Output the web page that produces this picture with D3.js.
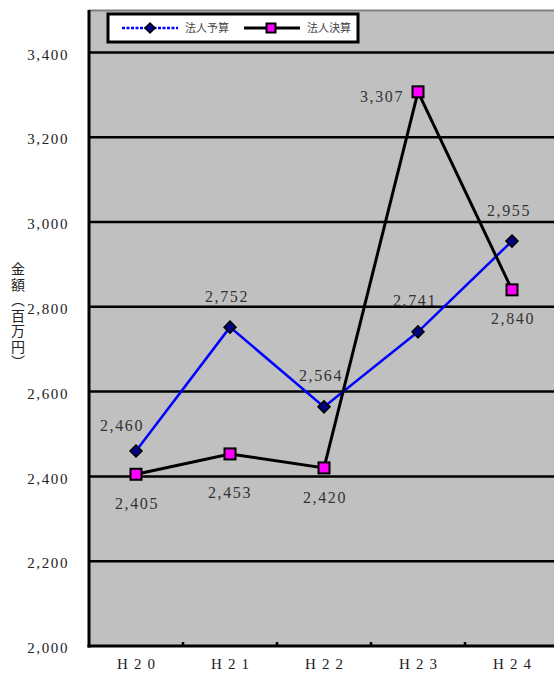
<!DOCTYPE html>
<html>
<head>
<meta charset="utf-8">
<script src="https://cdn.jsdelivr.net/npm/d3@7"></script>
<style>
  html, body { margin: 0; padding: 0; background: #fff; }
  svg { display: block; }
</style>
</head>
<body>
<script>
// Categories (fiscal years) and the two series, in millions of yen
const categories = ["H20", "H21", "H22", "H23", "H24"];
const budget = [2460, 2752, 2564, 2741, 2955];      // 法人予算
const settlement = [2405, 2453, 2420, 3307, 2840];  // 法人決算
const seriesNames = ["法人予算", "法人決算"];
const yTicks = [2000, 2200, 2400, 2600, 2800, 3000, 3200, 3400];
const yTitle = "金額（百万円）";

// Where each value label sits relative to its marker
const budgetLabelPos = ["above-left", "above", "above", "above", "above"];
const settlementLabelPos = ["below", "below-far", "below", "left", "below"];

const W = 554, H = 675;
const plot = { left: 89, right: 559, top: 10, bottom: 646 };
const numFont = "'Liberation Serif', 'DejaVu Serif', serif";

const svg = d3.select("body").append("svg")
  .attr("width", W).attr("height", H);

const x = d3.scaleBand().domain(categories).range([plot.left, plot.right]).padding(0);
const y = d3.scaleLinear().domain([2000, 3500]).range([plot.bottom, plot.top]);
const cx = d => x(d) + x.bandwidth() / 2;

// Plot area background
svg.append("rect")
  .attr("x", plot.left).attr("y", plot.top)
  .attr("width", plot.right - plot.left).attr("height", plot.bottom - plot.top)
  .attr("fill", "#c0c0c0");
svg.append("line")
  .attr("x1", plot.left).attr("x2", plot.right)
  .attr("y1", plot.top + 0.5).attr("y2", plot.top + 0.5)
  .attr("stroke", "#808080").attr("stroke-width", 2);

// Horizontal gridlines
svg.append("g").selectAll("line")
  .data(yTicks.filter(t => t > 2000))
  .join("line")
  .attr("x1", plot.left).attr("x2", plot.right)
  .attr("y1", d => y(d)).attr("y2", d => y(d))
  .attr("stroke", "#000").attr("stroke-width", 2.5);

// Y axis labels
const yAxis = d3.axisLeft(y).tickValues(yTicks).tickSize(0).tickPadding(0)
  .tickFormat(d3.format(","));
const yg = svg.append("g").attr("transform", `translate(${plot.left - 20},0)`).call(yAxis);
yg.select(".domain").remove();
yg.selectAll("text")
  .attr("font-family", numFont)
  .attr("font-size", 15)
  .attr("letter-spacing", 1.6)
  .attr("fill", "#222")
  .attr("dy", "0.45em");

// Axis lines
svg.append("line")
  .attr("x1", plot.left).attr("x2", plot.left)
  .attr("y1", plot.top).attr("y2", plot.bottom + 1.5)
  .attr("stroke", "#000").attr("stroke-width", 3);
svg.append("line")
  .attr("x1", plot.left - 1.5).attr("x2", plot.right)
  .attr("y1", plot.bottom).attr("y2", plot.bottom)
  .attr("stroke", "#000").attr("stroke-width", 3);

// X axis tick marks at category boundaries and labels
svg.append("g").selectAll("line")
  .data(categories.slice(1))
  .join("line")
  .attr("x1", d => x(d)).attr("x2", d => x(d))
  .attr("y1", plot.bottom - 4).attr("y2", plot.bottom)
  .attr("stroke", "#000").attr("stroke-width", 2.5);
svg.append("g").selectAll("text")
  .data(categories)
  .join("text")
  .attr("x", d => cx(d) + 3)
  .attr("y", plot.bottom + 23)
  .attr("text-anchor", "middle")
  .attr("font-family", numFont)
  .attr("font-size", 15)
  .attr("letter-spacing", 6)
  .attr("fill", "#222")
  .text(d => d);

// Y axis title, set vertically
svg.append("text")
  .attr("x", 18).attr("y", 262)
  .attr("font-family", "'Noto Sans CJK JP', sans-serif")
  .attr("font-size", 14)
  .attr("letter-spacing", 1.5)
  .attr("fill", "#222")
  .style("writing-mode", "vertical-rl")
  .text(yTitle);

// Series lines
const line = d3.line().x((d, i) => cx(categories[i])).y(d => y(d));
svg.append("path").datum(budget)
  .attr("d", line).attr("fill", "none")
  .attr("stroke", "#0000ff").attr("stroke-width", 2.5);
svg.append("path").datum(settlement)
  .attr("d", line).attr("fill", "none")
  .attr("stroke", "#000").attr("stroke-width", 3);

// Markers
const diamond = (g, px, py, s) => g.append("path")
  .attr("d", `M${px},${py - s}L${px + s},${py}L${px},${py + s}L${px - s},${py}Z`)
  .attr("fill", "#000080").attr("stroke", "#000").attr("stroke-width", 1.5);
const square = (g, px, py, s) => g.append("rect")
  .attr("x", px - s).attr("y", py - s).attr("width", 2 * s).attr("height", 2 * s)
  .attr("fill", "#ff00ff").attr("stroke", "#000").attr("stroke-width", 2);

const mk = svg.append("g");
budget.forEach((v, i) => diamond(mk, cx(categories[i]), y(v), 6));
settlement.forEach((v, i) => square(mk, cx(categories[i]), y(v), 5.5));

// Value labels
const fmt = d3.format(",");
function placeLabel(v, i, pos) {
  const px = cx(categories[i]), py = y(v);
  let lx = px, ly = py, anchor = "middle";
  if (pos === "above") { lx = px - 3; ly = py - 31; }
  else if (pos === "above-left") { lx = px - 14; ly = py - 26; }
  else if (pos === "below") { lx = px + 1; ly = py + 29; }
  else if (pos === "below-far") { lx = px; ly = py + 38; }
  else if (pos === "left") { lx = px - 14; ly = py + 5; anchor = "end"; }
  svg.append("text")
    .attr("x", lx).attr("y", ly)
    .attr("dy", "0.35em")
    .attr("text-anchor", anchor)
    .attr("font-family", numFont)
    .attr("font-size", 16)
    .attr("letter-spacing", 1.6)
    .attr("fill", "#333")
    .text(fmt(v));
}
budget.forEach((v, i) => placeLabel(v, i, budgetLabelPos[i]));
settlement.forEach((v, i) => placeLabel(v, i, settlementLabelPos[i]));

// Legend
const lg = svg.append("g");
lg.append("rect")
  .attr("x", 108).attr("y", 14).attr("width", 250).attr("height", 28)
  .attr("fill", "#fff").attr("stroke", "#000").attr("stroke-width", 3);
lg.append("line")
  .attr("x1", 122).attr("x2", 178).attr("y1", 28).attr("y2", 28)
  .attr("stroke", "#0000ff").attr("stroke-width", 2.5)
  .attr("stroke-dasharray", "3,1.5");
diamond(lg, 150, 28, 5);
lg.append("line")
  .attr("x1", 244).attr("x2", 300).attr("y1", 28).attr("y2", 28)
  .attr("stroke", "#000").attr("stroke-width", 3);
square(lg, 271, 28, 4.5);
lg.selectAll("text.name")
  .data(seriesNames)
  .join("text")
  .attr("class", "name")
  .attr("x", (d, i) => i === 0 ? 185 : 307)
  .attr("y", 28)
  .attr("dy", "0.35em")
  .attr("font-family", "'Noto Sans CJK JP', sans-serif")
  .attr("font-size", 11)
  .attr("fill", "#444")
  .text(d => d);
</script>
</body>
</html>
